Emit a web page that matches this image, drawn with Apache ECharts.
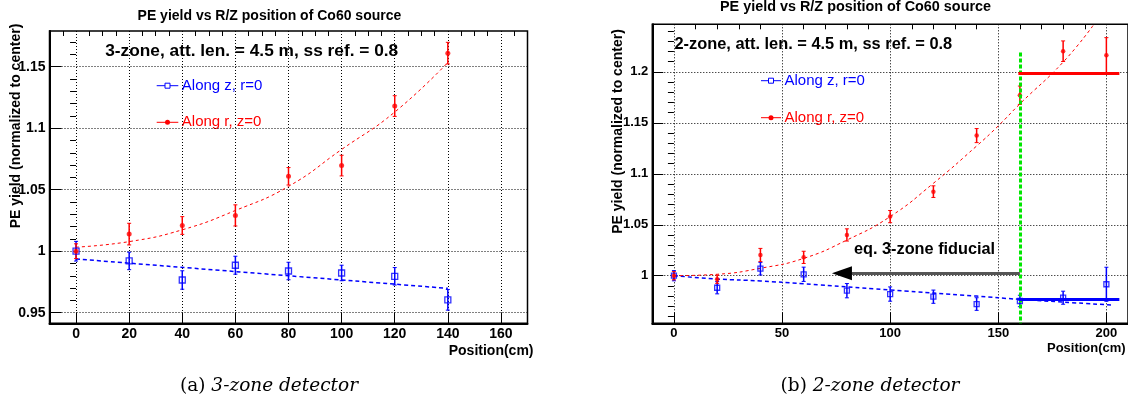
<!DOCTYPE html>
<html>
<head>
<meta charset="utf-8">
<script src="https://cdn.jsdelivr.net/npm/echarts@6/dist/echarts.min.js"></script>
<style>
html,body{margin:0;padding:0;background:#fff;}
#chart{width:1128px;height:402px;}
</style>
</head>
<body>
<div id="chart"></div>
<script>
// ---- (a) 3-zone detector ----
var posA      = [0, 20, 40, 60, 80, 100, 120, 140];
var zYieldA   = [1.0, 0.9921, 0.9766, 0.9886, 0.9839, 0.9823, 0.9796, 0.9605];
var zErrA     = [0.008, 0.0071, 0.0075, 0.0073, 0.0071, 0.0063, 0.0071, 0.0084];
var rYieldA   = [1.0, 1.0139, 1.0209, 1.0291, 1.0609, 1.0696, 1.118, 1.161];
var rErrA     = [0.006, 0.0088, 0.0072, 0.0086, 0.0071, 0.0084, 0.0084, 0.0088];
var zFitXA    = [0, 140];
var zFitA     = [0.9937, 0.9698];
var rFitXA    = [0, 20, 40, 60, 80, 100, 120, 140];
var rFitA     = [1.0033, 1.0078, 1.0174, 1.0331, 1.0527, 1.0827, 1.1131, 1.1534];

// ---- (b) 2-zone detector ----
var posB      = [0, 20, 40, 60, 80, 100, 120, 140, 160, 180, 200];
var zYieldB   = [1.0, 0.9882, 1.0069, 1.0014, 0.9853, 0.982, 0.9794, 0.9722, 0.9752, 0.9784, 0.9916];
var zErrB     = [0.005, 0.006, 0.0062, 0.007, 0.007, 0.007, 0.0065, 0.0062, 0.0056, 0.0064, 0.0167];
var rYieldB   = [1.0, 0.9965, 1.0203, 1.018, 1.040, 1.058, 1.0825, 1.1375, 1.1771, 1.2203, 1.2164];
var rErrB     = [0.004, 0.004, 0.0065, 0.006, 0.006, 0.006, 0.0057, 0.0069, 0.009, 0.0101, 0.0172];
var zFitXB    = [0, 20, 40, 60, 100, 140, 160, 203];
var zFitB     = [1.0, 0.9968, 0.9948, 0.992, 0.986, 0.980, 0.9768, 0.9712];
var rFitXB    = [0, 20, 40, 60, 80, 100, 120, 140, 150, 160, 180, 194];
var rFitB     = [1.0, 1.0014, 1.0073, 1.017, 1.035, 1.058, 1.0907, 1.1273, 1.147, 1.1686, 1.2096, 1.2459];

// annotations on (b)
var fiducialX   = 160;
var fiducialTop = 1.219;
var rLevelB     = 1.1984;
var zLevelB     = 0.9771;
var levelXB     = [159.3, 206];
var arrowY      = 1.0024;
var arrowX      = [160, 82.3, 77.7];

// tick labels
var xTicksA = [0, 20, 40, 60, 80, 100, 120, 140, 160];
var yTicksA = [0.95, 1, 1.05, 1.1, 1.15];
var xTicksB = [0, 50, 100, 150, 200];
var yTicksB = [1, 1.05, 1.1, 1.15, 1.2];

var FONT = 'Liberation Sans, Arial, Helvetica, sans-serif';
var RED  = '#ff0000';
var BLUE = '#0000ff';

function steps(from, to, step, skip){
    var out = [];
    var n = Math.round((to - from) / step);
    for(var i=0;i<=n;i++){
        var v = +(from + i*step).toFixed(4);
        if(skip.indexOf(v) < 0) out.push(v);
    }
    return out;
}
function pairs(xs, ys){
    return xs.map(function(x,i){ return [x, ys[i]]; });
}
function fmt(v){ return String(+(+v).toFixed(2)); }

function majorAxis(grid, min, max, ticks, fontSize, tickLen, pad){
    return {
        type:'value', gridIndex:grid, min:min, max:max,
        axisLine:{show:true, onZero:false, lineStyle:{color:'#000', width:2}},
        axisTick:{show:true, inside:true, length:tickLen, customValues:ticks, lineStyle:{color:'#000', width:1}},
        axisLabel:{show:true, customValues:ticks, formatter:fmt, margin:4, padding:pad || 0,
                   color:'#000', fontFamily:FONT, fontWeight:'bold', fontSize:fontSize},
        splitLine:{show:true, lineStyle:{color:'#000', width:1, type:[1,2]}}
    };
}
function minorAxis(grid, min, max, ticks, tickLen){
    return {
        type:'value', gridIndex:grid, min:min, max:max,
        axisLine:{show:false},
        axisTick:{show:true, inside:true, length:tickLen, customValues:ticks, lineStyle:{color:'#000', width:1}},
        axisLabel:{show:false},
        splitLine:{show:false}
    };
}

function errBars(ax, xs, ys, es, color){
    return {
        type:'custom', xAxisIndex:ax, yAxisIndex:ax, z:3, silent:true,
        data: xs.map(function(x,i){ return [x, ys[i]-es[i], ys[i]+es[i]]; }),
        encode:{x:0, y:[1,2]},
        renderItem:function(params, api){
            var lo = api.coord([api.value(0), api.value(1)]);
            var hi = api.coord([api.value(0), api.value(2)]);
            var c = 2;
            return {type:'group', children:[
                {type:'line', shape:{x1:lo[0], y1:lo[1], x2:hi[0], y2:hi[1]}, style:{stroke:color, lineWidth:1.5}},
                {type:'line', shape:{x1:lo[0]-c, y1:lo[1], x2:lo[0]+c, y2:lo[1]}, style:{stroke:color, lineWidth:1}},
                {type:'line', shape:{x1:hi[0]-c, y1:hi[1], x2:hi[0]+c, y2:hi[1]}, style:{stroke:color, lineWidth:1}}
            ]};
        }
    };
}
function fitLine(ax, xs, ys, color, width, dash){
    return {
        type:'line', xAxisIndex:ax, yAxisIndex:ax, data:pairs(xs, ys), smooth:true,
        symbol:'none', silent:true, z:2,
        lineStyle:{color:color, width:width, type:dash}
    };
}
function openSquares(ax, xs, ys, size){
    return {
        type:'scatter', xAxisIndex:ax, yAxisIndex:ax, data:pairs(xs, ys), symbol:'rect', symbolSize:size,
        silent:true, z:4, itemStyle:{color:'rgba(255,255,255,0)', borderColor:BLUE, borderWidth:1.3}
    };
}
function dots(ax, xs, ys, size){
    return {
        type:'scatter', xAxisIndex:ax, yAxisIndex:ax, data:pairs(xs, ys), symbol:'circle', symbolSize:size,
        silent:true, z:4, itemStyle:{color:RED}
    };
}

function text(x, y, str, size, weight, color, align, rot){
    return {type:'text', x:x, y:y, rotation:rot || 0, silent:true,
        style:{text:str, fill:color || '#000', fontFamily:FONT, fontSize:size, fontWeight:weight || 'normal',
               align:align || 'left', verticalAlign:'middle'}};
}
function legendEntry(x1, x2, y, label, color, square){
    var mx = (x1 + x2) / 2;
    var mark = square ?
        {type:'rect', shape:{x:mx-2.5, y:y-2.5, width:5, height:5}, style:{fill:'#fff', stroke:color, lineWidth:1}} :
        {type:'circle', shape:{cx:mx, cy:y, r:2.5}, style:{fill:color}};
    return [
        {type:'line', shape:{x1:x1, y1:y, x2:x2, y2:y}, style:{stroke:color, lineWidth:1}},
        mark,
        text(x2 + 3.5, y, label, 15, 'normal', color, 'left')
    ];
}
function caption(x, y, tag, body){
    return {type:'text', x:x, y:y, silent:true,
        style:{text:'{n|' + tag + ' }{i|' + body + '}', align:'center', verticalAlign:'middle',
               rich:{n:{fontFamily:'DejaVu Serif', fontSize:18.5, fill:'#000'},
                     i:{fontFamily:'DejaVu Serif', fontSize:18.5, fontStyle:'italic', fill:'#000'}}}};
}

var chart = echarts.init(document.getElementById('chart'));

var graphics = [
    text(269.4, 15.7, 'PE yield vs R/Z position of Co60 source', 14, 'bold', '#000', 'center'),
    text(855.5, 7, 'PE yield vs R/Z position of Co60 source', 14.4, 'bold', '#000', 'center'),
    text(251.7, 51, '3-zone, att. len. = 4.5 m, ss ref. = 0.8', 17.3, 'bold', '#000', 'center'),
    text(813.3, 44.3, '2-zone, att. len. = 4.5 m, ss ref. = 0.8', 16.4, 'bold', '#000', 'center'),
    text(16, 126, 'PE yield (normalized to center)', 14, 'bold', '#000', 'center', Math.PI/2),
    text(618, 131.5, 'PE yield (normalized to center)', 14, 'bold', '#000', 'center', Math.PI/2),
    text(533.5, 350.7, 'Position(cm)', 14, 'bold', '#000', 'right'),
    text(1125.7, 348.3, 'Position(cm)', 13, 'bold', '#000', 'right'),
    text(854, 250, 'eq. 3-zone fiducial', 16.3, 'bold', '#000', 'left'),
    caption(269, 386, '(a)', '3-zone detector'),
    caption(870, 386, '(b)', '2-zone detector')
].concat(
    legendEntry(156.7, 178.3, 85.7, 'Along z, r=0', BLUE, true),
    legendEntry(156.7, 178.3, 122.3, 'Along r, z=0', RED, false),
    legendEntry(761, 781, 80.7, 'Along z, r=0', BLUE, true),
    legendEntry(761, 781, 117.7, 'Along r, z=0', RED, false)
);

var option = {
    animation:false,
    backgroundColor:'#fff',
    grid:[
        {left:49.5, top:31, width:478, height:292.3, show:true, borderColor:'#000', borderWidth:1.5, containLabel:false},
        {left:652.3, top:24.3, width:478.5, height:299, show:true, borderColor:'#000', borderWidth:1.5, containLabel:false}
    ],
    xAxis:[
        majorAxis(0, -10, 170, xTicksA, 14, 11),
        minorAxis(0, -10, 170, steps(-5, 165, 5, xTicksA), 5),
        majorAxis(1, -10, 210, xTicksB, 13, 11),
        minorAxis(1, -10, 210, steps(-10, 210, 10, xTicksB), 5)
    ],
    yAxis:[
        majorAxis(0, 0.9414, 1.179, yTicksA, 14, 12, [4,0,0,0]),
        minorAxis(0, 0.9414, 1.179, steps(0.95, 1.17, 0.01, yTicksA), 6),
        majorAxis(1, 0.9533, 1.2467, yTicksB, 13, 11, [4,0,0,0]),
        minorAxis(1, 0.9533, 1.2467, steps(0.96, 1.24, 0.01, yTicksB), 6)
    ],
    graphic:graphics,
    series:[
        fitLine(0, zFitXA, zFitA, BLUE, 1.5, [4,3]),
        fitLine(0, rFitXA, rFitA, RED, 1, [3,3]),
        errBars(0, posA, zYieldA, zErrA, BLUE),
        errBars(0, posA, rYieldA, rErrA, RED),
        openSquares(0, posA, zYieldA, 6),
        dots(0, posA, rYieldA, 5),

        fitLine(2, zFitXB, zFitB, BLUE, 1.5, [4,3]),
        fitLine(2, rFitXB, rFitB, RED, 1, [3,3]),
        errBars(2, posB, zYieldB, zErrB, BLUE),
        errBars(2, posB, rYieldB, rErrB, RED),
        openSquares(2, posB, zYieldB, 5),
        dots(2, posB, rYieldB, 4.5),
        {
            type:'line', xAxisIndex:2, yAxisIndex:2, data:[], silent:true,
            markLine:{
                silent:true, animation:false, symbol:['none','none'], label:{show:false},
                data:[
                    [{coord:[fiducialX, fiducialTop]}, {coord:[fiducialX, 0.9533]}],
                    [{coord:[levelXB[0], rLevelB], lineStyle:{color:RED, width:3, type:'solid'}}, {coord:[levelXB[1], rLevelB]}],
                    [{coord:[levelXB[0], zLevelB], lineStyle:{color:BLUE, width:3, type:'solid'}}, {coord:[levelXB[1], zLevelB]}],
                    [{coord:[arrowX[0], arrowY], lineStyle:{color:'#555', width:3, type:'solid'}}, {coord:[arrowX[1], arrowY]}],
                    [{coord:[arrowX[1], arrowY], lineStyle:{color:'#000', width:1, type:'solid'}},
                     {coord:[arrowX[2], arrowY], symbol:'triangle', symbolSize:[14,20]}]
                ],
                lineStyle:{color:'#00e600', width:3, type:[4,2]}
            }
        }
    ]
};
chart.setOption(option);
</script>
</body>
</html>
